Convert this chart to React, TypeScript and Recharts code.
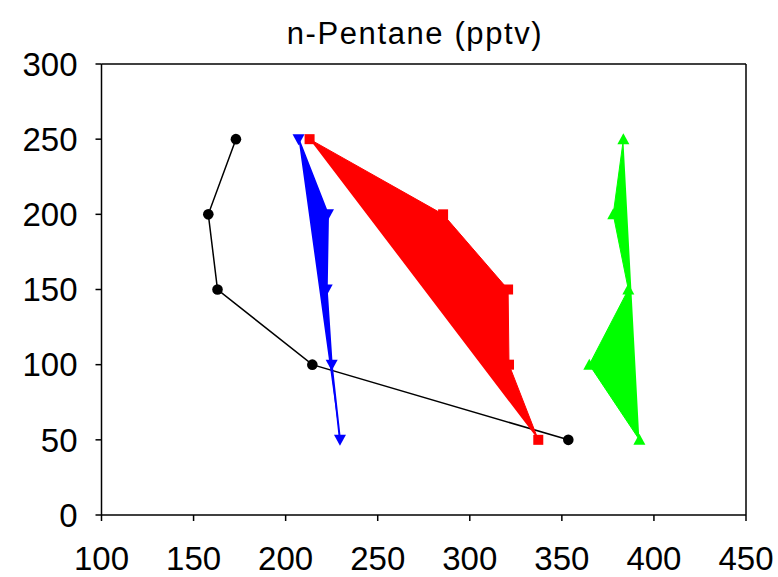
import React from 'react';
import { ScatterChart, Scatter, XAxis, YAxis, ReferenceLine, Customized } from 'recharts';

const altitudes = [250, 200, 150, 100, 50];
const blackValues = [173, 158, 163, 214.5, 353.5];
const blueValues = [207, 223, 222.3, 225, 229.5];
const redValues = [213, 285.5, 320.8, 321.3, 337.2];
const greenValues = [383.4, 377.9, 386.1, 364.9, 392.1];

const xTicks = [100, 150, 200, 250, 300, 350, 400, 450];
const yTicks = [0, 50, 100, 150, 200, 250, 300];
const title = 'n-Pentane (pptv)';

const toPoints = (vals: number[]) => vals.map((v, i) => ({ x: v, y: altitudes[i] }));
const blackData = toPoints(blackValues);
const blueData = toPoints(blueValues);
const redData = toPoints(redValues);
const greenData = toPoints(greenValues);

const FONT = 'Liberation Sans, Arial, sans-serif';

const CircleShape = (props: any) => {
  const { cx, cy } = props;
  return <circle cx={cx} cy={cy} r={5.3} fill="#000" />;
};
const SquareShape = (props: any) => {
  const { cx, cy } = props;
  return <rect x={cx - 5} y={cy - 5} width={10} height={10} fill="#FF0000" />;
};
const TriDown = (props: any) => {
  const { cx, cy } = props;
  return <polygon points={`${cx - 6},${cy - 5} ${cx + 6},${cy - 5} ${cx},${cy + 6}`} fill="#0000FF" />;
};
const TriUp = (props: any) => {
  const { cx, cy } = props;
  return <polygon points={`${cx - 6},${cy + 5} ${cx + 6},${cy + 5} ${cx},${cy - 6}`} fill="#00FF00" />;
};

const Title = () => (
  <text
    x={415}
    y={44}
    textAnchor="middle"
    fontSize={31}
    letterSpacing={1.6}
    fontFamily={FONT}
    fill="#000"
  >
    {title}
  </text>
);

export default function App() {
  return (
    <div style={{ position: 'absolute', left: 0, top: 0, background: '#fff' }}>
      <ScatterChart
        width={778}
        height={577}
        margin={{ top: 64, right: 32, bottom: 0, left: 21.5 }}
      >
        <XAxis
          type="number"
          dataKey="x"
          domain={[100, 450]}
          ticks={xTicks}
          interval={0}
          allowDataOverflow
          height={62}
          tickSize={6}
          tickMargin={26}
          axisLine={{ stroke: '#000', strokeWidth: 1.5 }}
          tickLine={{ stroke: '#000', strokeWidth: 1.5 }}
          tick={{ fill: '#000', fontSize: 33, fontFamily: FONT }}
        />
        <YAxis
          type="number"
          dataKey="y"
          domain={[0, 300]}
          ticks={yTicks}
          interval={0}
          allowDataOverflow
          width={80}
          tickSize={6}
          tickMargin={18}
          axisLine={{ stroke: '#000', strokeWidth: 1.5 }}
          tickLine={{ stroke: '#000', strokeWidth: 1.5 }}
          tick={{ fill: '#000', fontSize: 33, fontFamily: FONT }}
        />
        <ReferenceLine y={300} stroke="#000" strokeWidth={1.5} />
        <ReferenceLine x={450} stroke="#000" strokeWidth={1.5} />
        <Scatter
          data={blackData}
          fill="#000"
          line={{ stroke: '#000', strokeWidth: 1.5 }}
          lineType="joint"
          shape={CircleShape}
          isAnimationActive={false}
        />
        <Scatter
          data={blueData}
          fill="#0000FF"
          line={{ stroke: '#0000FF', strokeWidth: 2, fill: '#0000FF' }}
          lineType="joint"
          shape={TriDown}
          isAnimationActive={false}
        />
        <Scatter
          data={redData}
          fill="#FF0000"
          line={{ stroke: '#FF0000', strokeWidth: 1, fill: '#FF0000' }}
          lineType="joint"
          shape={SquareShape}
          isAnimationActive={false}
        />
        <Scatter
          data={greenData}
          fill="#00FF00"
          line={{ stroke: '#00FF00', strokeWidth: 1, fill: '#00FF00' }}
          lineType="joint"
          shape={TriUp}
          isAnimationActive={false}
        />
        <Customized component={Title} />
      </ScatterChart>
    </div>
  );
}
